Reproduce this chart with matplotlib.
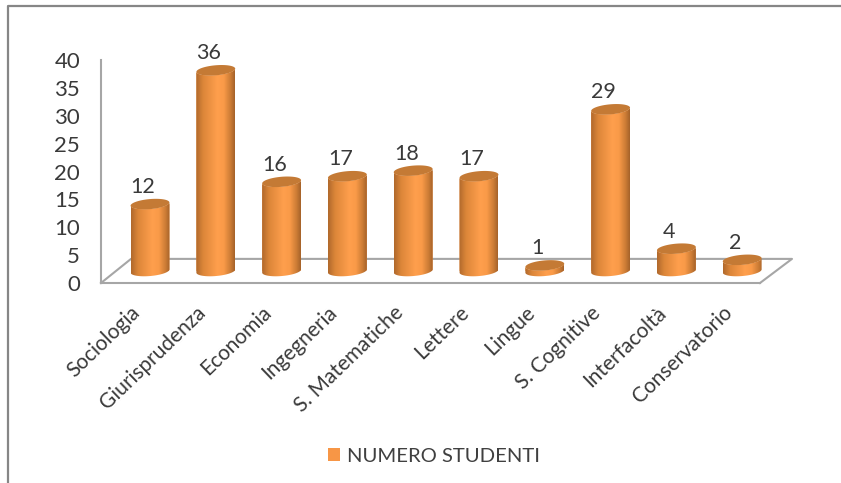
import numpy as np
import matplotlib
matplotlib.use("Agg")
import matplotlib.pyplot as plt
from matplotlib.lines import Line2D
from matplotlib.patches import Polygon
from matplotlib.transforms import ScaledTranslation
from matplotlib.colors import LinearSegmentedColormap

categories = ["Sociologia", "Giurisprudenza", "Economia", "Ingegneria", "S. Matematiche",
              "Lettere", "Lingue", "S. Cognitive", "Interfacoltà", "Conservatorio"]
studenti = [12, 36, 16, 17, 18, 17, 1, 29, 4, 2]
yticks = [0, 5, 10, 15, 20, 25, 30, 35, 40]
serie = "NUMERO STUDENTI"

W, H = 841, 483
plt.rcParams['font.family'] = ['Lato', 'DejaVu Sans']
GRIGIO = '#a6a6a6'
TESTO = '#3a3a3a'

fig = plt.figure(figsize=(W / 100, H / 100), dpi=100)
fig.patch.set_facecolor('white')

# pixel -> frazione di figura
def box(x0, x1, ytop, ybot):
    return [x0 / W, 1 - ybot / H, (x1 - x0) / W, (ybot - ytop) / H]

STEP = 65.8          # px tra le categorie
UNIT = 5.55          # px per unita
xlim = ((101 - 150) / STEP, (760 - 150) / STEP)

# cornice esterna
fig.add_artist(Line2D([8 / W, 8 / W, 1], [0, 1 - 5.5 / H, 1 - 5.5 / H], color='#868686', lw=1.6))

# parete e pavimento
ax = fig.add_axes(box(101, 760, 60, 283))
ax.set_xlim(xlim)
ax.set_ylim(0, 40)
ax.patch.set_visible(False)
for s in ['top', 'right']:
    ax.spines[s].set_visible(False)
for s in ['left', 'bottom']:
    ax.spines[s].set_color(GRIGIO)
    ax.spines[s].set_linewidth(1.5)
ax.set_yticks(yticks)
ax.tick_params(axis='y', length=0, pad=15, labelsize=16, labelcolor=TESTO)
ax.set_xticks(range(len(categories)))
ax.set_xticklabels(categories, rotation=44, ha='right', rotation_mode='anchor', fontsize=15, color=TESTO)
ax.tick_params(axis='x', length=0, pad=14)
shift = ScaledTranslation(-20 / 100, 0, fig.dpi_scale_trans)
for lab in ax.get_xticklabels():
    lab.set_transform(lab.get_transform() + shift)

depth = 24 / UNIT
dx0 = 30 / STEP
dx1 = 32 / STEP
ax.plot([xlim[0], xlim[0] + dx0, xlim[1] + dx1, xlim[1]], [0, depth, depth, 0],
        color=GRIGIO, lw=1.5, clip_on=False, zorder=1)

# cilindri: stessa scala della parete, alzati di 12 px
bx = fig.add_axes(box(101, 760, 48, 271))
bx.set_xlim(xlim)
bx.set_ylim(0, 40)
bx.axis('off')

cmap = LinearSegmentedColormap.from_list('cil', [(0, '#b0692c'), (0.18, '#dc8639'), (0.55, '#ff9f4d'),
                                                 (0.72, '#f99a48'), (0.9, '#c97a34'), (1, '#a5622a')])
grad = np.linspace(0, 1, 128).reshape(1, -1)
RX = 19.5
RY = 5.0
TILT = np.radians(5)
t = np.linspace(0, 2 * np.pi, 90)

def ellisse(xc, v, tt):
    ex = RX * np.cos(tt)
    ey = RY * np.sin(tt)
    px = ex * np.cos(TILT) - ey * np.sin(TILT)
    py = ex * np.sin(TILT) + ey * np.cos(TILT)
    return xc + px / STEP, v + py / UNIT

bars = bx.bar(range(len(categories)), studenti, width=2 * RX / STEP, color='#f79646', label=serie, zorder=2)
for i, (v, b) in enumerate(zip(studenti, bars)):
    # corpo: meta inferiore della base + bordo superiore
    low = np.linspace(np.pi, 2 * np.pi, 45)
    xb, yb = ellisse(i, 0, low)
    xt, yt = ellisse(i, v, low[::-1])
    body = Polygon(np.column_stack([np.r_[xb, xt], np.r_[yb, yt]]), transform=bx.transData, fc='none', ec='none',
                   clip_on=False)
    bx.add_patch(body)
    b.set_clip_path(body)
    im = bx.imshow(grad, extent=(i - RX / STEP, i + RX / STEP, -2, v + 2), aspect='auto', cmap=cmap, zorder=3)
    im.set_clip_path(body)
    im.set_clip_box(fig.bbox)
    xe, ye = ellisse(i, v, t)
    bx.fill(xe, ye, color='#c47a35', lw=0, zorder=4, clip_on=False)
    bx.annotate(str(v), (i, v), xytext=(-7 * 0.72, 17 * 0.72), textcoords='offset points',
                ha='center', va='center', fontsize=15.5, color=TESTO, zorder=5)
bx.set_xlim(xlim)
bx.set_ylim(0, 40)

leg = fig.legend(handles=[bars], labels=[serie], loc='center', bbox_to_anchor=(434 / W, 1 - 456 / H),
                 frameon=False, fontsize=14.6, handlelength=0.6, handleheight=0.6, handletextpad=0.35)
leg.get_texts()[0].set_color('#404040')

fig.savefig('out.png', dpi=100)
